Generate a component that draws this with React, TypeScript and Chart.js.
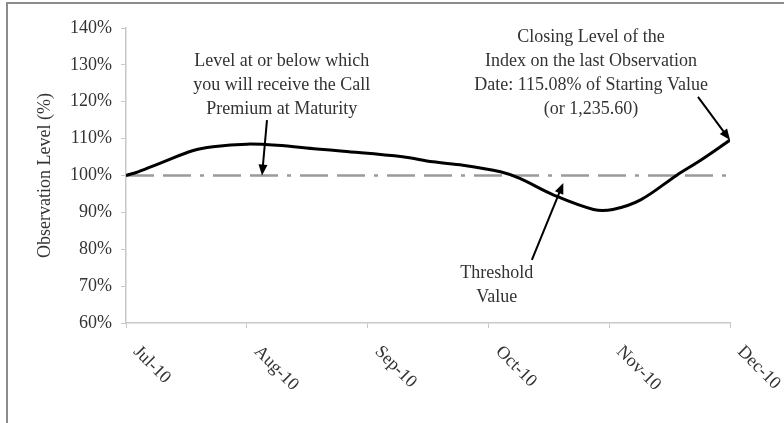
import React, { useEffect, useRef } from "react";
import { Chart, registerables } from "chart.js";

Chart.register(...registerables);

// Category (month) labels on the x axis, positions 0..5
const monthLabels = ["Jul-10", "Aug-10", "Sep-10", "Oct-10", "Nov-10", "Dec-10"];

// Observation level series (x in month index, y in %)
const obsX = [0, 0.1, 0.31, 0.55, 0.72, 1.0, 1.25, 1.58, 1.8, 2.29, 2.54, 2.79, 3.1, 3.26, 3.54, 3.87, 4.03, 4.26, 4.56, 4.76, 5.0];
const obsY = [100, 101, 103.7, 106.7, 107.8, 108.5, 108.2, 107.2, 106.6, 105.1, 103.7, 102.8, 101, 99.2, 94.7, 90.8, 90.8, 93.4, 100.1, 104.2, 109.6];

// Threshold value series
const thresholdX = [0, 5];
const thresholdY = [100, 100];

// Y axis range
const yMin = 60;
const yMax = 140;
const yStep = 10;

// Annotation texts
const noteLevel = ["Level at or below which", "you will receive the Call", "Premium at Maturity"];
const noteClosing = ["Closing Level of the", "Index on the last Observation", "Date: 115.08% of Starting Value", "(or 1,235.60)"];
const noteThreshold = ["Threshold", "Value"];

// Annotation anchors in data units: [centerX, firstLineY]
const noteLevelAt = [1.29, 131];
const noteClosingAt = [3.85, 137.5];
const noteThresholdAt = [3.07, 73.6];

// Arrows in data units: [tailX, tailY, tipX, tipY]
const arrowLevel = [1.167, 115.0, 1.126, 100];
const arrowThreshold = [3.36, 77.1, 3.62, 98.0];
const arrowClosing = [4.735, 121.3, 5.0, 109.6];

const FONT = "'Liberation Serif', 'Times New Roman', serif";
const TEXT_COLOR = "#333333";

const annotationPlugin = {
  id: "annotations",
  afterDraw(chart: any) {
    const ctx = chart.ctx as CanvasRenderingContext2D;
    const xs = chart.scales.x;
    const ys = chart.scales.y;
    const area = chart.chartArea;

    ctx.save();
    // x tick labels rotated downward
    ctx.fillStyle = TEXT_COLOR;
    ctx.font = `18px ${FONT}`;
    ctx.textAlign = "left";
    ctx.textBaseline = "middle";
    monthLabels.forEach((lab, i) => {
      const px = xs.getPixelForValue(i);
      ctx.save();
      ctx.translate(px + 10, area.bottom + 26);
      ctx.rotate(Math.PI / 4);
      ctx.fillText(lab, 0, 0);
      ctx.restore();
    });

    // text notes
    const drawNote = (lines: string[], at: number[]) => {
      const cx = xs.getPixelForValue(at[0]);
      const cy = ys.getPixelForValue(at[1]);
      ctx.textAlign = "center";
      ctx.textBaseline = "middle";
      lines.forEach((l, i) => ctx.fillText(l, cx, cy + i * 24));
    };
    drawNote(noteLevel, noteLevelAt);
    drawNote(noteClosing, noteClosingAt);
    drawNote(noteThreshold, noteThresholdAt);

    // arrows
    const drawArrow = (a: number[]) => {
      const x1 = xs.getPixelForValue(a[0]);
      const y1 = ys.getPixelForValue(a[1]);
      const x2 = xs.getPixelForValue(a[2]);
      const y2 = ys.getPixelForValue(a[3]);
      const ang = Math.atan2(y2 - y1, x2 - x1);
      const head = 11;
      const hw = 4.5;
      ctx.strokeStyle = "#000";
      ctx.fillStyle = "#000";
      ctx.lineWidth = 2;
      ctx.beginPath();
      ctx.moveTo(x1, y1);
      ctx.lineTo(x2 - Math.cos(ang) * head * 0.8, y2 - Math.sin(ang) * head * 0.8);
      ctx.stroke();
      ctx.beginPath();
      ctx.moveTo(x2, y2);
      ctx.lineTo(x2 - Math.cos(ang) * head - Math.sin(ang) * hw, y2 - Math.sin(ang) * head + Math.cos(ang) * hw);
      ctx.lineTo(x2 - Math.cos(ang) * head + Math.sin(ang) * hw, y2 - Math.sin(ang) * head - Math.cos(ang) * hw);
      ctx.closePath();
      ctx.fill();
    };
    drawArrow(arrowLevel);
    drawArrow(arrowThreshold);
    drawArrow(arrowClosing);
    ctx.restore();
  },
};

export default function App() {
  const ref = useRef<HTMLCanvasElement | null>(null);

  useEffect(() => {
    if (!ref.current) return;
    const chart = new Chart(ref.current, {
      type: "line",
      data: {
        datasets: [
          {
            label: "Observation Level",
            data: obsX.map((x, i) => ({ x, y: obsY[i] })),
            borderColor: "#000000",
            borderWidth: 3,
            pointRadius: 0,
            tension: 0.35,
            fill: false,
            order: 0,
          },
          {
            label: "Threshold",
            data: thresholdX.map((x, i) => ({ x, y: thresholdY[i] })),
            borderColor: "#9a9a9a",
            borderWidth: 2.5,
            borderDash: [28, 9, 28, 9, 4, 9],
            pointRadius: 0,
            fill: false,
            order: 1,
          },
        ],
      },
      plugins: [annotationPlugin],
      options: {
        responsive: false,
        animation: false,
        events: [],
        layout: { padding: { top: 28, right: 54, left: 0, bottom: 0 } },
        plugins: {
          legend: { display: false },
          tooltip: { enabled: false },
        },
        scales: {
          x: {
            type: "linear",
            min: 0,
            max: monthLabels.length - 1,
            afterFit: (s: any) => {
              s.height = 100;
            },
            ticks: {
              stepSize: 1,
              maxRotation: 0,
              autoSkip: false,
              color: "rgba(0,0,0,0)",
              font: { family: FONT, size: 18 },
              callback: (v: any) => monthLabels[Math.round(Number(v))] ?? "",
            },
            grid: {
              drawOnChartArea: false,
              drawTicks: true,
              tickLength: 5,
              color: "#c8c8c8",
            },
            border: { display: true, color: "#c8c8c8", width: 1.5 },
          },
          y: {
            min: yMin,
            max: yMax,
            afterFit: (s: any) => {
              s.width = 126;
            },
            ticks: {
              stepSize: yStep,
              padding: 9,
              color: TEXT_COLOR,
              font: { family: FONT, size: 18 },
              callback: (v: any) => `${v}%`,
            },
            title: {
              display: true,
              text: "Observation Level (%)",
              color: TEXT_COLOR,
              font: { family: FONT, size: 18 },
              padding: { top: 34, bottom: 4 },
            },
            grid: {
              drawOnChartArea: false,
              drawTicks: true,
              tickLength: 5,
              color: "#c8c8c8",
            },
            border: { display: true, color: "#c8c8c8", width: 1.5 },
          },
        },
      },
    });
    return () => chart.destroy();
  }, []);

  return (
    <div style={{ position: "fixed", left: 0, top: 0, width: 784, height: 423, background: "#fff", overflow: "hidden" }}>
      <div
        style={{
          position: "absolute",
          left: 6,
          top: 2,
          width: 800,
          height: 440,
          borderLeft: "2px solid #8c8c8c",
          borderTop: "2px solid #8c8c8c",
        }}
      />
      <canvas ref={ref} width={784} height={423} style={{ position: "absolute", left: 0, top: 0 }} />
    </div>
  );
}
